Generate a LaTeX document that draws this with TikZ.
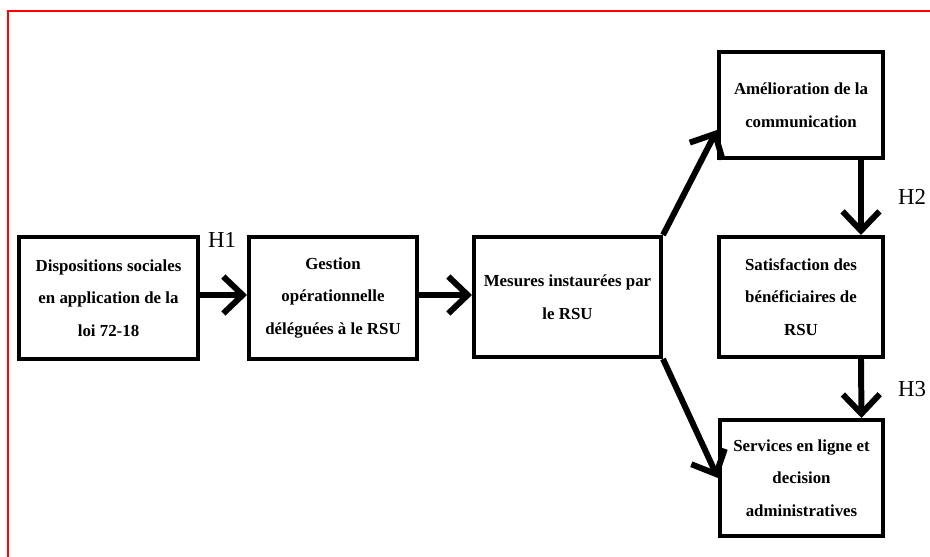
\documentclass[tikz,border=0pt]{standalone}
\usepackage{fontspec}
\setmainfont{Liberation Serif}
\usepackage{tikz}
\usetikzlibrary{arrows.meta}
\usepackage{xcolor}

\begin{document}
\begin{tikzpicture}[
    x=0.02cm, y=-0.02cm,
    box/.style={draw, line width=2.3pt, minimum width=3.3cm, minimum height=2.45cm, font=\bfseries\fontsize{9.6}{18.6}\selectfont, align=center, inner sep=2pt},
    arr/.style={line width=3.4pt, -{Straight Barb[length=11pt, width=21pt]}},
    hlab/.style={font=\fontsize{13}{15}\selectfont}
]
\useasboundingbox (0,0) rectangle (930,557);
\draw[red, line width=1.2pt] (8,557) -- (8,11) -- (930,11);

\node[box, minimum width=3.58cm] (dispo) at (108.5, 298) {Dispositions sociales\\en application de la\\loi 72-18};
\node[box, minimum width=3.36cm] (gestion) at (333, 298) {Gestion\\opérationnelle\\déléguées à le RSU};
\node[box, minimum width=3.74cm, minimum height=2.4cm] (mesures) at (567.5, 297) {Mesures instaurées par\\le RSU};
\node[box, minimum width=3.28cm, minimum height=2.12cm] (amelio) at (801, 105) {Amélioration de la\\communication};
\node[box, minimum width=3.28cm, minimum height=2.4cm] (satisf) at (801, 297) {Satisfaction des\\bénéficiaires de\\RSU};
\node[box, minimum width=3.26cm, minimum height=2.32cm] (services) at (801.5, 478) {Services en ligne et\\decision\\administratives};

\coordinate (a1) at ([yshift=0.06cm]dispo.east);
\coordinate (a2) at ([yshift=0.06cm]gestion.east);
\draw[arr] (a1) -- (a1 -| gestion.west);
\draw[arr] (a2) -- (a2 -| mesures.west);
\draw[arr] (mesures.north east) -- ([yshift=0.6cm]amelio.south west);
\draw[arr] (mesures.south east) -- (services.west);
\draw[arr] ([xshift=1.2cm]amelio.south) -- ([xshift=1.2cm]satisf.north);
\draw[arr] ([xshift=1.2cm]satisf.south) -- ([xshift=1.2cm]services.north);

\node[hlab] (h1) at (222, 240) {H1};
\node[hlab] (h2) at (912, 197) {H2};
\node[hlab] (h3) at (912, 389) {H3};
\end{tikzpicture}
\end{document}
